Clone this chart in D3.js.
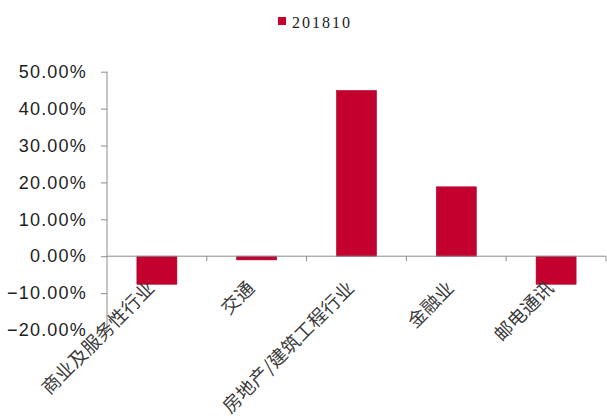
<html>
<head>
<meta charset="UTF-8"/>
<script src="https://d3js.org/d3.v7.min.js"></script>
<title>201810</title>
<style>
body { margin:0; background:#fff; }
.axis path, .axis line { stroke:#8c8c8c; }
</style>
</head>
<body>
<svg id='big' width=607 height=419></svg>
<script>
'use strict';

// data
var categories = ['商业及服务性行业', '交通', '房地产/建筑工程行业', '金融业', '邮电通讯'];
var values = [-0.076, -0.010, 0.449, 0.188, -0.076];
var seriesName = '201810';
var yTicks = [-0.2, -0.1, 0, 0.1, 0.2, 0.3, 0.4, 0.5];

var red = '#c4002f';

var svg = d3.select('#big');

var sxBand = d3.scaleBand().domain(categories).range([107, 606]);
var sy = d3.scaleLinear().domain([-0.2, 0.5]).range([330, 71.7]);

// legend
var legend = svg.append('g').attr('transform', 'translate(278,17)');
legend.append('rect')
	.attr('width', 8).attr('height', 8)
	.attr('fill', red);
legend.append('text')
	.attr('x', 14).attr('y', 11)
	.attr('font-family', 'Liberation Serif, serif')
	.attr('font-size', 16)
	.attr('letter-spacing', 2)
	.attr('fill', '#222')
	.text(seriesName);

// bars
svg.selectAll('.bar')
	.data(values)
	.enter()
	.append('rect')
	.attr('class', 'bar')
	.attr('x', function(d, i){ return sxBand(categories[i]) + sxBand.bandwidth()/2 - 20; })
	.attr('width', 40)
	.attr('y', function(d){ return sy(Math.max(0, d)); })
	.attr('height', function(d){ return Math.abs(sy(d) - sy(0)); })
	.attr('fill', red)
	.attr('stroke', '#a8002a')
	.attr('stroke-width', 0.6);

// y axis
var yAxis = d3.axisLeft(sy)
	.tickValues(yTicks)
	.tickSize(6)
	.tickPadding(14)
	.tickFormat(d3.format('.2%'));

var gy = svg.append('g')
	.attr('class', 'axis y')
	.attr('transform', 'translate(107,0)')
	.call(yAxis);
gy.select('.domain').attr('d', 'M0,' + sy(0.5) + 'V' + sy(-0.2));
gy.selectAll('text')
	.attr('font-family', 'Liberation Sans, Arial, sans-serif')
	.attr('font-size', 18)
	.attr('letter-spacing', 1.2)
	.attr('fill', '#1e1e1e');

// x axis along zero line
var gx = svg.append('g').attr('class', 'axis x');
gx.append('line')
	.attr('x1', 107).attr('x2', 606)
	.attr('y1', sy(0)).attr('y2', sy(0));
gx.selectAll('.tick')
	.data(categories)
	.enter()
	.append('line')
	.attr('x1', function(d){ return sxBand(d) + sxBand.bandwidth(); })
	.attr('x2', function(d){ return sxBand(d) + sxBand.bandwidth(); })
	.attr('y1', sy(0)).attr('y2', sy(0) + 5);

// category labels, rotated
svg.selectAll('.clabel')
	.data(categories)
	.enter()
	.append('text')
	.attr('class', 'clabel')
	.attr('transform', function(d){
		return 'translate(' + (sxBand(d) + sxBand.bandwidth()/2 - 1) + ',' + (sy(0) + 33) + ') rotate(-45)';
	})
	.attr('text-anchor', 'end')
	.attr('font-family', 'Noto Sans CJK SC, sans-serif')
	.attr('font-size', 18.5)
	.attr('letter-spacing', 0.3)
	.attr('fill', '#3a3a3a')
	.text(function(d){ return d; });
</script>
</body>
</html>
